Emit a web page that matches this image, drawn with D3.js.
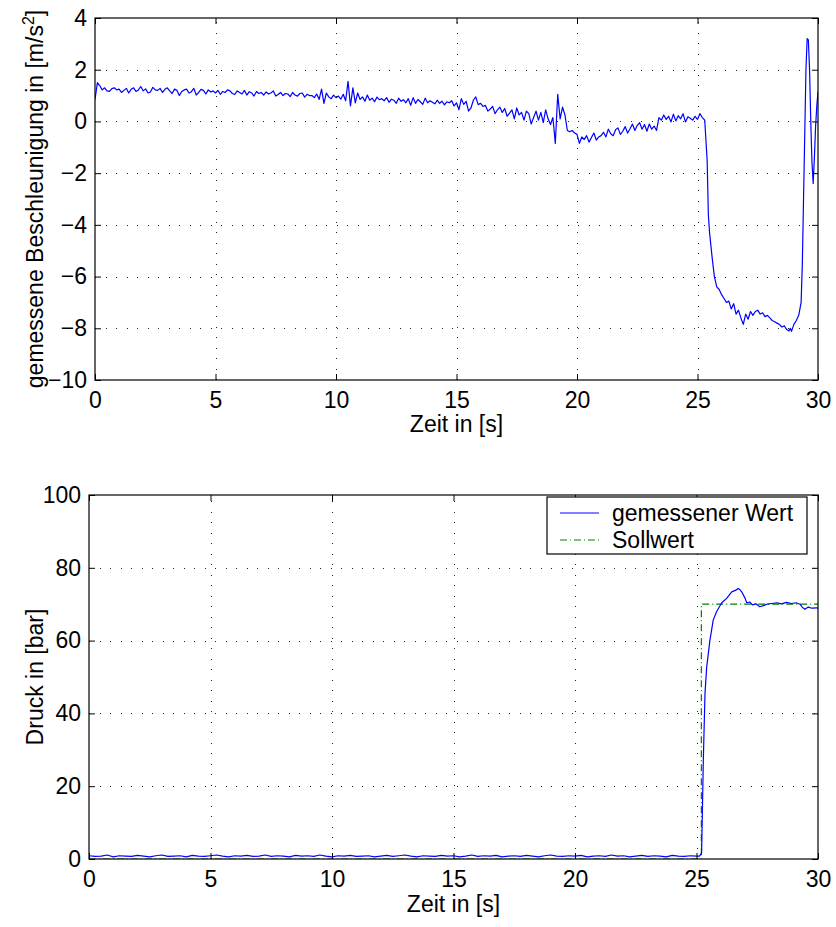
<!DOCTYPE html>
<html>
<head>
<meta charset="utf-8">
<script src="https://cdn.jsdelivr.net/npm/d3@7"></script>
<style>
  html, body { margin: 0; padding: 0; background: #fff; }
  svg { display: block; font-family: "Liberation Sans", Arial, Helvetica, sans-serif; }
</style>
</head>
<body>
<svg id="chart" width="836" height="927"></svg>
<script>
// ---- Acceleration (upper panel) ----
// measured acceleration sampled every 0.1 s from 0.0 s to 25.2 s
const accelStep = 0.1;
const accelSampled = [
  0.85, 1.50, 1.38, 1.22, 1.30, 1.18, 1.16, 1.27, 1.30, 1.22,
  1.25, 1.12, 1.20, 1.28, 1.10, 1.24, 1.30, 1.16, 1.22, 1.35,
  1.18, 1.26, 1.10, 1.14, 1.32, 1.22, 1.20, 1.28, 1.12, 1.24,
  1.30, 1.18, 1.08, 1.25, 1.20, 1.00, 1.16, 1.22, 1.25, 1.10,
  1.15, 1.28, 1.02, 1.12, 1.24, 1.20, 1.06, 1.22, 1.14, 1.18,
  1.10, 1.20, 1.05, 1.16, 1.12, 1.22, 1.18, 1.08, 1.04, 1.18,
  1.12, 1.06, 1.20, 1.02, 1.15, 1.10, 0.98, 1.16, 1.08, 1.12,
  1.02, 1.14, 1.06, 1.10, 1.18, 0.98, 1.04, 1.12, 1.00, 1.08,
  1.06, 0.96, 1.12, 1.02, 0.98, 1.08, 1.10, 0.94, 1.05, 1.00,
  1.00, 0.92, 1.06, 0.85, 1.25, 0.70, 1.10, 0.95, 0.88, 1.02,
  0.92, 0.98, 0.86, 1.05, 0.80, 1.55, 0.60, 1.30, 0.72, 1.10,
  0.85, 0.95, 0.78, 1.02, 0.82, 0.90, 0.76, 0.94, 0.84, 0.88,
  0.80, 0.92, 0.74, 0.86, 0.82, 0.70, 0.90, 0.78, 0.84, 0.72,
  0.88, 0.62, 0.92, 0.70, 0.85, 0.76, 0.66, 0.90, 0.72, 0.80,
  0.74, 0.68, 0.82, 0.70, 0.78, 0.64, 0.76, 0.72, 0.80, 0.60,
  0.72, 0.45, 0.88, 0.66, 0.78, 0.40, 0.52, 0.82, 0.95, 0.65,
  0.70, 0.58, 0.62, 0.40, 0.48, 0.58, 0.30, 0.45, 0.55, 0.35,
  0.50, 0.20, 0.32, 0.45, 0.10, 0.52, 0.25, 0.35, 0.05, 0.40,
  0.30, -0.10, 0.15, 0.40, 0.05, 0.35, -0.05, 0.45, 0.10, -0.12,
  0.15, -0.85, 1.05, 0.10, 0.55, 0.25, -0.35, -0.40, -0.35, -0.45,
  -0.50, -0.85, -0.60, -0.70, -0.55, -0.80, -0.62, -0.45, -0.72, -0.60,
  -0.55, -0.42, -0.60, -0.30, -0.48, -0.55, -0.32, -0.25, -0.50, -0.38,
  -0.20, -0.45, -0.28, -0.10, -0.35, -0.15, -0.05, -0.30, -0.12, -0.38,
  -0.10, -0.30, -0.18, -0.35, 0.15, 0.05, 0.25, 0.08, 0.20, -0.02,
  0.28, 0.02, 0.22, 0.10, 0.30, -0.02, 0.18, 0.12, 0.05, 0.20,
  0.08, 0.30, 0.15
];
// braking phase, irregular time stamps
const accelBrakeTime = [
  25.3, 25.4, 25.45, 25.5, 25.6, 25.7, 25.8, 25.9, 26.0, 26.1, 26.2, 26.3, 26.4, 26.5,
  26.6, 26.7, 26.8, 26.9, 27.0, 27.1, 27.2, 27.3, 27.4, 27.5, 27.6, 27.7, 27.8, 27.9,
  28.0, 28.1, 28.2, 28.3, 28.4, 28.5, 28.6, 28.7, 28.8, 28.85, 28.9, 29.0, 29.1, 29.2,
  29.3, 29.35, 29.4, 29.45, 29.5, 29.55, 29.6, 29.65, 29.7, 29.75, 29.8, 29.85, 29.9,
  29.95, 30.0
];
const accelBrakeValue = [
  0.05, -1.5, -3.6, -4.3, -5.2, -6.0, -6.4, -6.5, -6.7, -6.85, -7.0, -6.95, -7.25, -7.05,
  -7.45, -7.3, -7.6, -7.85, -7.45, -7.65, -7.35, -7.5, -7.35, -7.3, -7.45, -7.4, -7.55, -7.5,
  -7.6, -7.7, -7.75, -7.8, -7.85, -7.95, -7.9, -8.05, -8.1, -8.0, -8.12, -7.85, -7.7, -7.5,
  -7.0, -5.5, -3.0, -0.5, 2.0, 3.2, 3.15, 2.0, 0.0, -1.6, -2.4, -1.4, -0.2,
  0.6, 1.15
];
const accelXTicks = [0, 5, 10, 15, 20, 25, 30];
const accelYTicks = [-10, -8, -6, -4, -2, 0, 2, 4];

// ---- Brake pressure (lower panel) ----
// measured pressure sampled every 0.25 s from 0 s to 25 s
const pressureStep = 0.25;
const pressureSampled = [
  0.9, 0.7, 0.8, 1.1, 0.6, 0.9, 0.8, 0.7, 1.0, 0.8,
  0.6, 0.9, 1.1, 0.7, 0.8, 0.9, 0.6, 1.0, 0.8, 0.7,
  0.9, 1.1, 0.8, 0.6, 0.9, 0.8, 1.0, 0.7, 0.8, 1.1,
  0.7, 0.9, 0.8, 0.6, 1.0, 0.8, 0.9, 0.7, 1.1, 0.8,
  0.6, 0.9, 0.8, 1.0, 0.7, 0.8, 0.9, 0.6, 0.8, 1.0,
  0.7, 0.9, 1.1, 0.8, 0.6, 0.9, 0.8, 0.7, 1.0, 0.8,
  0.9, 0.6, 0.8, 1.1, 0.7, 0.9, 0.8, 1.0, 0.6, 0.8,
  0.9, 0.7, 1.0, 0.8, 0.6, 0.9, 1.1, 0.8, 0.7, 0.9,
  0.8, 1.0, 0.6, 0.8, 0.9, 0.7, 1.1, 0.8, 0.9, 0.6,
  0.8, 1.0, 0.7, 0.9, 0.8, 0.6, 1.0, 0.8, 0.7, 0.9,
  0.8
];
const pressureRiseTime = [
  25.12, 25.21, 25.28, 25.35, 25.42, 25.55, 25.69, 25.83, 26.04, 26.24, 26.45, 26.6,
  26.72, 26.8, 26.86, 27.0, 27.07, 27.2, 27.3, 27.45, 27.6, 27.75, 27.9, 28.1, 28.3,
  28.5, 28.7, 28.9, 29.1, 29.26, 29.35, 29.46, 29.6, 29.75, 29.95, 30.0
];
const pressureRiseValue = [
  0.8, 1.6, 27, 45.5, 52.8, 60, 65.7, 68, 70.4, 71.6, 73.4, 73.8,
  74.3, 73.9, 73.4, 71.6, 70.4, 70.6, 69.8, 70.1, 69.3, 69.6, 70.0, 70.2, 70.4,
  70.1, 70.5, 70.2, 70.4, 70.0, 69.2, 68.6, 69.2, 68.9, 69.0, 68.8
];
const setpointTime = [0, 25.2, 25.2, 30];
const setpointValue = [0, 0, 70, 70];
const pressureXTicks = [0, 5, 10, 15, 20, 25, 30];
const pressureYTicks = [0, 20, 40, 60, 80, 100];
const legendLabels = ["gemessener Wert", "Sollwert"];

const svg = d3.select("#chart");
const FONT = 23;
const minus = v => String(v).replace("-", "\u2212");

function zipSeries(times, values) {
  return times.map((t, i) => ({ t, v: values[i] }));
}
function sampledSeries(step, values) {
  return values.map((v, i) => ({ t: +(i * step).toFixed(3), v }));
}

function drawPanel(cfg) {
  const { left, right, top, bottom, xDomain, yDomain, xTicks, yTicks, id } = cfg;
  const x = d3.scaleLinear().domain(xDomain).range([left, right]);
  const y = d3.scaleLinear().domain(yDomain).range([bottom, top]);
  const g = svg.append("g");

  g.append("clipPath").attr("id", id).append("rect")
    .attr("x", left).attr("y", top).attr("width", right - left).attr("height", bottom - top);

  // dotted grid
  const grid = g.append("g").attr("stroke", "#222").attr("stroke-width", 1)
    .attr("stroke-dasharray", "1,9.5").attr("shape-rendering", "crispEdges");
  xTicks.filter(t => t !== xDomain[0] && t !== xDomain[1]).forEach(t => {
    grid.append("line").attr("x1", Math.round(x(t)) + 0.5).attr("x2", Math.round(x(t)) + 0.5)
      .attr("y1", bottom).attr("y2", top);
  });
  yTicks.filter(t => t !== yDomain[0] && t !== yDomain[1]).forEach(t => {
    grid.append("line").attr("y1", Math.round(y(t)) + 0.5).attr("y2", Math.round(y(t)) + 0.5)
      .attr("x1", left).attr("x2", right);
  });

  const plot = g.append("g").attr("clip-path", `url(#${id})`);

  // axes with inward ticks on all four sides
  const tk = 6;
  const axB = d3.axisBottom(x).tickValues(xTicks).tickSizeInner(-tk).tickSizeOuter(0).tickPadding(12).tickFormat(minus);
  const axT = d3.axisTop(x).tickValues(xTicks).tickSizeInner(-tk).tickSizeOuter(0).tickFormat("");
  const axL = d3.axisLeft(y).tickValues(yTicks).tickSizeInner(-tk).tickSizeOuter(0).tickPadding(8).tickFormat(minus);
  const axR = d3.axisRight(y).tickValues(yTicks).tickSizeInner(-tk).tickSizeOuter(0).tickFormat("");

  const style = sel => {
    sel.selectAll("path").remove();
    sel.selectAll("line").attr("stroke", "#000");
    sel.selectAll("text").attr("fill", "#000").style("font-size", FONT + "px")
      .style("font-family", '"Liberation Sans", Arial, Helvetica, sans-serif');
  };
  g.append("g").attr("transform", `translate(0,${bottom})`).call(axB).call(style);
  g.append("g").attr("transform", `translate(0,${top})`).call(axT).call(style);
  g.append("g").attr("transform", `translate(${left},0)`).call(axL).call(style);
  g.append("g").attr("transform", `translate(${right},0)`).call(axR).call(style);

  g.append("rect").attr("x", left).attr("y", top).attr("width", right - left).attr("height", bottom - top)
    .attr("fill", "none").attr("stroke", "#000").attr("stroke-width", 1.2);

  return { x, y, plot, g };
}

const line = (x, y) => d3.line().x(d => x(d.t)).y(d => y(d.v));

// upper panel
const P1 = drawPanel({ left: 95, right: 818, top: 18, bottom: 380,
  xDomain: [0, 30], yDomain: [-10, 4], xTicks: accelXTicks, yTicks: accelYTicks, id: "clipA" });
const accelData = sampledSeries(accelStep, accelSampled).concat(zipSeries(accelBrakeTime, accelBrakeValue));
P1.plot.append("path").datum(accelData)
  .attr("fill", "none").attr("stroke", "#0000ff").attr("stroke-width", 1.2)
  .attr("stroke-linejoin", "round").attr("d", line(P1.x, P1.y));

P1.g.append("text").attr("x", (95 + 818) / 2).attr("y", 432).attr("text-anchor", "middle")
  .style("font-size", FONT + "px").text("Zeit in [s]");
const yl = P1.g.append("text").attr("transform", `translate(43,${(18 + 380) / 2}) rotate(-90)`)
  .attr("text-anchor", "middle").style("font-size", FONT + "px");
yl.append("tspan").text("gemessene Beschleunigung in [m/s");
yl.append("tspan").attr("dy", -9).style("font-size", "16px").text("2");
yl.append("tspan").attr("dy", 9).text("]");

// lower panel
const P2 = drawPanel({ left: 89, right: 818, top: 495, bottom: 859,
  xDomain: [0, 30], yDomain: [0, 100], xTicks: pressureXTicks, yTicks: pressureYTicks, id: "clipB" });
const setData = zipSeries(setpointTime, setpointValue);
const pressData = sampledSeries(pressureStep, pressureSampled).concat(zipSeries(pressureRiseTime, pressureRiseValue));
P2.plot.append("path").datum(setData)
  .attr("fill", "none").attr("stroke", "#008000").attr("stroke-width", 1.2)
  .attr("stroke-dasharray", "7,3,1,3").attr("d", line(P2.x, P2.y));
P2.plot.append("path").datum(pressData)
  .attr("fill", "none").attr("stroke", "#0000ff").attr("stroke-width", 1.2)
  .attr("stroke-linejoin", "round").attr("d", line(P2.x, P2.y));

P2.g.append("text").attr("x", (89 + 818) / 2).attr("y", 912).attr("text-anchor", "middle")
  .style("font-size", FONT + "px").text("Zeit in [s]");
P2.g.append("text").attr("transform", `translate(43,${(495 + 859) / 2}) rotate(-90)`)
  .attr("text-anchor", "middle").style("font-size", FONT + "px").text("Druck in [bar]");

// legend
const lg = svg.append("g");
lg.append("rect").attr("x", 547).attr("y", 497).attr("width", 260).attr("height", 57)
  .attr("fill", "#fff").attr("stroke", "#000").attr("stroke-width", 1.2);
const legendStyles = [
  { color: "#0000ff", dash: null },
  { color: "#008000", dash: "7,3,1,3" }
];
legendLabels.forEach((lab, i) => {
  const cy = 513 + i * 27;
  lg.append("line").attr("x1", 560).attr("x2", 599).attr("y1", cy).attr("y2", cy)
    .attr("stroke", legendStyles[i].color).attr("stroke-width", 1.2)
    .attr("stroke-dasharray", legendStyles[i].dash);
  lg.append("text").attr("x", 612).attr("y", cy + 8).style("font-size", FONT + "px").text(lab);
});
</script>
</body>
</html>
